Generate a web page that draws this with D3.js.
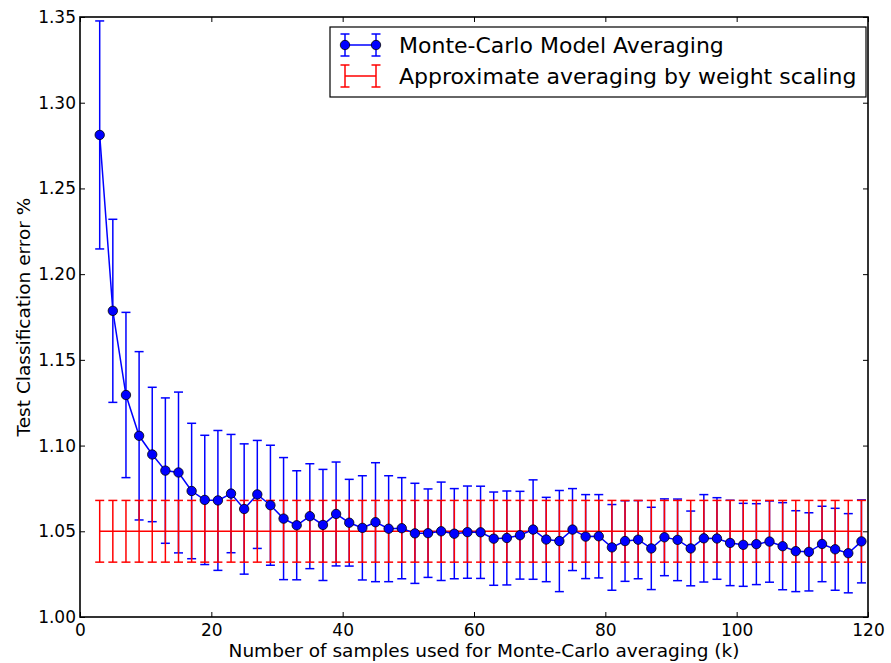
<!DOCTYPE html>
<html>
<head>
<meta charset="utf-8">
<script src="https://cdn.jsdelivr.net/npm/d3@7"></script>
<style>
  html, body { margin: 0; padding: 0; background: #fff; }
  svg { display: block; }
  text { font-family: "DejaVu Sans", sans-serif; fill: #000; }
</style>
</head>
<body>
<svg id="chart" width="891" height="663"></svg>
<script>
// Number of Monte-Carlo samples k
const samples = [3,5,7,9,11,13,15,17,19,21,23,25,27,29,31,33,35,37,39,41,
  43,45,47,49,51,53,55,57,59,61,63,65,67,69,71,73,75,77,79,81,
  83,85,87,89,91,93,95,97,99,101,103,105,107,109,111,113,115,117,119];

// Mean test error (%) of Monte-Carlo model averaging
const mcError = [1.2812,1.1786,1.1295,1.1057,1.0948,1.0854,1.0843,1.0735,1.0683,1.0680,
  1.0720,1.0630,1.0715,1.0652,1.0574,1.0535,1.0588,1.0537,1.0601,1.0550,
  1.0520,1.0553,1.0515,1.0518,1.0488,1.0489,1.0500,1.0486,1.0495,1.0494,
  1.0457,1.0461,1.0477,1.0510,1.0452,1.0443,1.0510,1.0469,1.0471,1.0406,
  1.0443,1.0451,1.0400,1.0465,1.0450,1.0400,1.0459,1.0458,1.0432,1.0421,
  1.0425,1.0440,1.0413,1.0384,1.0380,1.0426,1.0395,1.0372,1.0441];

// Standard deviation of the Monte-Carlo estimate
const mcStd = [0.0665,0.0534,0.0482,0.0491,0.0392,0.0424,0.0469,0.0395,0.0377,0.0408,
  0.0345,0.0380,0.0315,0.0350,0.0356,0.0318,0.0306,0.0324,0.0303,0.0253,
  0.0304,0.0347,0.0309,0.0295,0.0292,0.0258,0.0287,0.0263,0.0269,0.0269,
  0.0272,0.0274,0.0256,0.0290,0.0246,0.0295,0.0239,0.0245,0.0243,0.0250,
  0.0235,0.0228,0.0240,0.0224,0.0238,0.0218,0.0255,0.0238,0.0249,0.0242,
  0.0236,0.0237,0.0254,0.0236,0.0228,0.0220,0.0239,0.0231,0.0242];

// Weight-scaling approximation: one error value and its spread
const wsError = 1.050;
const wsStd = 0.018;

const xTicks = [0, 20, 40, 60, 80, 100, 120];
const yTicks = [1.00, 1.05, 1.10, 1.15, 1.20, 1.25, 1.30, 1.35];

const legendLabels = ["Monte-Carlo Model Averaging", "Approximate averaging by weight scaling"];
const xLabel = "Number of samples used for Monte-Carlo averaging (k)";
const yLabel = "Test Classification error %";

const BLUE = "#0000ff", RED = "#ff0000";
const plotL = 80, plotR = 868, plotT = 17, plotB = 617;
const capHalf = 4.5;

const svg = d3.select("#chart");
const x = d3.scaleLinear().domain([0, 120]).range([plotL, plotR]);
const y = d3.scaleLinear().domain([1.00, 1.35]).range([plotB, plotT]);

const plot = svg.append("g");

// vertical error bar with caps
function errBar(g, cx, lo, hi, color, w) {
  g.append("line").attr("x1", cx).attr("x2", cx).attr("y1", lo).attr("y2", hi)
    .attr("stroke", color).attr("stroke-width", w);
  [lo, hi].forEach(v => g.append("line")
    .attr("x1", cx - capHalf).attr("x2", cx + capHalf).attr("y1", v).attr("y2", v)
    .attr("stroke", color).attr("stroke-width", w));
}

// Monte-Carlo error bars
const mcBars = plot.append("g");
samples.forEach((k, i) => errBar(mcBars, x(k), y(mcError[i] - mcStd[i]), y(mcError[i] + mcStd[i]), BLUE, 1.5));

// Weight-scaling error bars and line
const wsBars = plot.append("g");
samples.forEach(k => errBar(wsBars, x(k), y(wsError - wsStd), y(wsError + wsStd), RED, 1.5));
plot.append("line")
  .attr("x1", x(samples[0])).attr("x2", x(samples[samples.length - 1]))
  .attr("y1", y(wsError)).attr("y2", y(wsError))
  .attr("stroke", RED).attr("stroke-width", 1.5);

// Monte-Carlo line and markers
plot.append("path")
  .datum(samples.map((k, i) => [k, mcError[i]]))
  .attr("fill", "none").attr("stroke", BLUE).attr("stroke-width", 1.5)
  .attr("d", d3.line().x(d => x(d[0])).y(d => y(d[1])));
plot.append("g").selectAll("circle")
  .data(samples.map((k, i) => [k, mcError[i]]))
  .join("circle")
  .attr("cx", d => x(d[0])).attr("cy", d => y(d[1])).attr("r", 4.7)
  .attr("fill", BLUE).attr("stroke", "#000").attr("stroke-width", 0.8);

// Axes: ticks pointing inward on all four sides
const tickLen = 5;
const axB = svg.append("g").attr("transform", `translate(0,${plotB})`)
  .call(d3.axisBottom(x).tickValues(xTicks).tickSizeInner(-tickLen).tickSizeOuter(0).tickPadding(7));
const axT = svg.append("g").attr("transform", `translate(0,${plotT})`)
  .call(d3.axisTop(x).tickValues(xTicks).tickSizeInner(-tickLen).tickSizeOuter(0).tickFormat(""));
const axL = svg.append("g").attr("transform", `translate(${plotL},0)`)
  .call(d3.axisLeft(y).tickValues(yTicks).tickSizeInner(-tickLen).tickSizeOuter(0).tickPadding(4).tickFormat(d3.format(".2f")));
const axR = svg.append("g").attr("transform", `translate(${plotR},0)`)
  .call(d3.axisRight(y).tickValues(yTicks).tickSizeInner(-tickLen).tickSizeOuter(0).tickFormat(""));
[axB, axT, axL, axR].forEach(a => {
  a.select(".domain").remove();
  a.selectAll(".tick line").attr("stroke", "#000").attr("stroke-width", 1);
  a.selectAll(".tick text").style("font-family", "DejaVu Sans").style("font-size", "17px").attr("fill", "#000");
});

// frame
svg.append("rect").attr("x", plotL).attr("y", plotT)
  .attr("width", plotR - plotL).attr("height", plotB - plotT)
  .attr("fill", "none").attr("stroke", "#000").attr("stroke-width", 1.6);

// axis titles
svg.append("text").attr("x", (plotL + plotR) / 2 + 10).attr("y", 657)
  .attr("text-anchor", "middle").style("font-size", "18.5px").text(xLabel);
svg.append("text")
  .attr("transform", `translate(30,${(plotT + plotB) / 2}) rotate(-90)`)
  .attr("text-anchor", "middle").style("font-size", "18.5px").text(yLabel);

// legend
const lg = svg.append("g");
lg.append("rect").attr("x", 330).attr("y", 27).attr("width", 536).attr("height", 70)
  .attr("fill", "#fff").attr("stroke", "#000").attr("stroke-width", 1.2);
const hx0 = 345, hx1 = 376, row1 = 45, row2 = 76;
lg.append("line").attr("x1", hx0).attr("x2", hx1).attr("y1", row1).attr("y2", row1)
  .attr("stroke", BLUE).attr("stroke-width", 1.5);
[hx0, hx1].forEach(hx => {
  errBar(lg, hx, row1 + 11, row1 - 11, BLUE, 1.5);
  lg.append("circle").attr("cx", hx).attr("cy", row1).attr("r", 4.7)
    .attr("fill", BLUE).attr("stroke", "#000").attr("stroke-width", 0.8);
});
lg.append("line").attr("x1", hx0).attr("x2", hx1).attr("y1", row2).attr("y2", row2)
  .attr("stroke", RED).attr("stroke-width", 1.5);
[hx0, hx1].forEach(hx => errBar(lg, hx, row2 + 11, row2 - 11, RED, 1.5));
lg.append("text").attr("x", 399).attr("y", row1).attr("dy", "0.35em")
  .style("font-size", "22px").text(legendLabels[0]);
lg.append("text").attr("x", 399).attr("y", row2).attr("dy", "0.35em")
  .style("font-size", "22px").text(legendLabels[1]);
</script>
</body>
</html>
